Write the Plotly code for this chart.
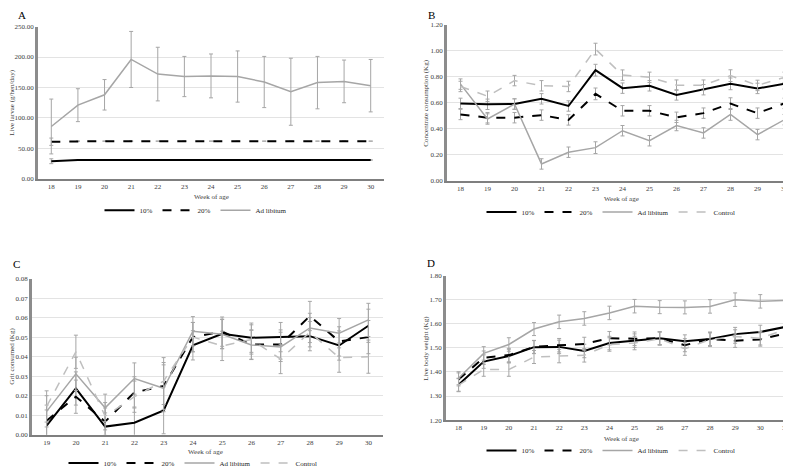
import plotly.graph_objects as go

W, H = 791, 470

# ---- data ----
weeks_a = list(range(18, 31))
larvae_10 = [29, 31, 31, 31, 31, 31, 31, 31, 31, 31, 31, 31, 31]
larvae_20 = [61, 62, 62, 62, 62, 62, 62, 62, 62, 62, 62, 62, 62]
larvae_adlib = [86, 121, 138, 196, 172, 168, 169, 168, 159, 143, 158, 160, 153]
larvae_10_err = [4, 0, 0, 0, 0, 0, 0, 0, 0, 0, 0, 0, 0]
larvae_20_err = [6, 0, 0, 0, 0, 0, 0, 0, 0, 0, 0, 0, 0]
larvae_adlib_err = [45, 27, 25, 46, 44, 33, 36, 42, 42, 55, 43, 35, 43]

weeks_b = list(range(18, 31))
conc_10 = [0.595, 0.588, 0.59, 0.63, 0.575, 0.85, 0.712, 0.73, 0.66, 0.70, 0.745, 0.71, 0.745]
conc_20 = [0.51, 0.485, 0.485, 0.505, 0.468, 0.668, 0.538, 0.538, 0.488, 0.52, 0.593, 0.52, 0.595]
conc_adlib = [0.743, 0.475, 0.59, 0.13, 0.22, 0.255, 0.385, 0.308, 0.425, 0.368, 0.51, 0.355, 0.47]
conc_control = [0.725, 0.65, 0.77, 0.73, 0.725, 1.012, 0.812, 0.795, 0.735, 0.735, 0.808, 0.733, 0.795]
conc_err = [0.04, 0.04, 0.04, 0.04, 0.04, 0.045, 0.04, 0.04, 0.04, 0.04, 0.045, 0.04, 0.04]

weeks_c = list(range(19, 31))
grit_10 = [0.0047, 0.0237, 0.0042, 0.0062, 0.0125, 0.0458, 0.0517, 0.0497, 0.05, 0.0505, 0.0457, 0.0558]
grit_20 = [0.0072, 0.0195, 0.0067, 0.0217, 0.025, 0.05, 0.0528, 0.0462, 0.0462, 0.0608, 0.0478, 0.05]
grit_adlib = [0.012, 0.0312, 0.0138, 0.0288, 0.0238, 0.053, 0.0515, 0.046, 0.045, 0.0547, 0.052, 0.0588]
grit_control = [0.0145, 0.0425, 0.0095, 0.0195, 0.0275, 0.05, 0.0455, 0.0488, 0.0388, 0.0525, 0.0395, 0.04]
grit_err = [0.008, 0.0085, 0.007, 0.008, 0.012, 0.0075, 0.0075, 0.0075, 0.0075, 0.0075, 0.0075, 0.0085]

weeks_d = list(range(18, 32))
weight_10 = [1.347, 1.443, 1.466, 1.503, 1.504, 1.487, 1.52, 1.53, 1.54, 1.527, 1.537, 1.557, 1.566, 1.587]
weight_20 = [1.369, 1.459, 1.47, 1.504, 1.511, 1.516, 1.54, 1.538, 1.54, 1.511, 1.537, 1.53, 1.535, 1.56]
weight_adlib = [1.374, 1.477, 1.514, 1.578, 1.608, 1.622, 1.645, 1.673, 1.669, 1.668, 1.672, 1.70, 1.693, 1.697]
weight_control = [1.345, 1.41, 1.41, 1.462, 1.466, 1.469, 1.514, 1.52, 1.538, 1.496, 1.534, 1.547, 1.54, 1.576]
weight_err = [0.027, 0.028, 0.028, 0.027, 0.028, 0.028, 0.028, 0.028, 0.027, 0.027, 0.028, 0.028, 0.028, 0.028]

SERIF = "Liberation Serif"
BLACK = "#000000"
GRAY = "#a6a6a6"
LIGHT = "#bfbfbf"
ERRC = "#a6a6a6"

styles = {
    "10%": dict(color=BLACK, width=2, dash="solid"),
    "20%": dict(color=BLACK, width=2, dash="dash"),
    "Ad libitum": dict(color=GRAY, width=1.5, dash="solid"),
    "Control": dict(color=LIGHT, width=1.5, dash="dash"),
}

fig = go.Figure()


def px2x(p):
    return p / W


def px2y(p):
    return 1 - p / H


def add_series(xs, ys, err, name, axis_id, legend_id):
    sfx = "" if axis_id == 1 else str(axis_id)
    fig.add_trace(go.Scatter(
        x=xs, y=ys, name=name, mode="lines",
        line=styles[name],
        error_y=dict(type="data", array=err, color=ERRC, thickness=1, width=2),
        xaxis="x" + sfx, yaxis="y" + sfx,
        legend=legend_id,
        hoverinfo="x+y+name",
    ))


# panel A
add_series(weeks_a, larvae_10, larvae_10_err, "10%", 1, "legend")
add_series(weeks_a, larvae_20, larvae_20_err, "20%", 1, "legend")
add_series(weeks_a, larvae_adlib, larvae_adlib_err, "Ad libitum", 1, "legend")
# panel B
add_series(weeks_b, conc_10, conc_err, "10%", 2, "legend2")
add_series(weeks_b, conc_20, conc_err, "20%", 2, "legend2")
add_series(weeks_b, conc_adlib, conc_err, "Ad libitum", 2, "legend2")
add_series(weeks_b, conc_control, conc_err, "Control", 2, "legend2")
# panel C
add_series(weeks_c, grit_10, grit_err, "10%", 3, "legend3")
add_series(weeks_c, grit_20, grit_err, "20%", 3, "legend3")
add_series(weeks_c, grit_adlib, grit_err, "Ad libitum", 3, "legend3")
add_series(weeks_c, grit_control, grit_err, "Control", 3, "legend3")
# panel D
add_series(weeks_d, weight_10, weight_err, "10%", 4, "legend4")
add_series(weeks_d, weight_20, weight_err, "20%", 4, "legend4")
add_series(weeks_d, weight_adlib, weight_err, "Ad libitum", 4, "legend4")
add_series(weeks_d, weight_control, weight_err, "Control", 4, "legend4")

tickfont = dict(family=SERIF, size=7, color="#404040")


def xaxis(weeks, x0, x1, anchor):
    return dict(
        domain=[px2x(x0), px2x(x1)], anchor=anchor,
        range=[weeks[0] - 0.5, weeks[-1] + 0.5],
        tickmode="array", tickvals=weeks, ticks="", showgrid=False,
        showline=True, linecolor="#7f7f7f", linewidth=1.5,
        tickfont=tickfont, zeroline=False, automargin=False, fixedrange=True,
    )


def yaxis(rng, dtick, y0, y1, anchor):
    return dict(
        domain=[px2y(y1), px2y(y0)], anchor=anchor,
        range=rng, dtick=dtick, tick0=rng[0], tickformat=".2f", ticks="",
        showgrid=True, gridcolor="#e3e3e3", gridwidth=1,
        showline=True, linecolor="#8c8c8c", linewidth=2.5,
        tickfont=tickfont, zeroline=False, automargin=False, fixedrange=True,
    )


leg_common = dict(
    orientation="h", xanchor="center", yanchor="middle",
    font=dict(family=SERIF, size=7, color="#262626"),
    itemwidth=30, bgcolor="rgba(0,0,0,0)", tracegroupgap=0,
)


def note(text, x, y, size=7, angle=0, color="#404040"):
    return dict(text=text, x=px2x(x), y=px2y(y), xref="paper", yref="paper",
                xanchor="center", yanchor="middle", showarrow=False,
                textangle=angle, font=dict(family=SERIF, size=size, color=color))


annotations = []
for label, x, y in [("A", 14, 7), ("B", 423, 7), ("C", 8, 262), ("D", 423, 261)]:
    annotations.append(note(label, x, y, size=11, color="#000000"))
for x, y in [(203, 194), (613, 196), (197, 455), (613, 441)]:
    annotations.append(note("Week of age", x, y))
for text, x, y in [("Live larvae (g/hen/day)", 4, 97), ("Concentrate consumption (Kg)", 418, 97),
                   ("Grit consumed (Kg)", 4, 357), ("Live body weight (Kg)", 418, 348)]:
    annotations.append(note(text, x, y, angle=-90))

fig.update_layout(
    width=W, height=H,
    margin=dict(l=0, r=0, t=0, b=0),
    paper_bgcolor="white", plot_bgcolor="white",
    font=dict(family=SERIF),
    xaxis=xaxis(weeks_a, 30, 376, "y"),
    yaxis=yaxis([0, 250], 50, 19, 175, "x"),
    xaxis2=xaxis(weeks_b, 439, 790, "y2"),
    yaxis2=yaxis([0, 1.2], 0.2, 17, 177, "x2"),
    xaxis3=xaxis(weeks_c, 24, 375, "y3"),
    yaxis3=yaxis([0, 0.08], 0.01, 277, 437, "x3"),
    xaxis4=xaxis(weeks_d, 438, 790, "y4"),
    yaxis4=yaxis([1.2, 1.8], 0.1, 274, 422, "x4"),
    legend=dict(leg_common, x=px2x(188), y=px2y(207)),
    legend2=dict(leg_common, x=px2x(603), y=px2y(209)),
    legend3=dict(leg_common, x=px2x(185), y=px2y(466)),
    legend4=dict(leg_common, x=px2x(603), y=px2y(453)),
    annotations=annotations,
    showlegend=True,
)

fig.write_html("out.html")
